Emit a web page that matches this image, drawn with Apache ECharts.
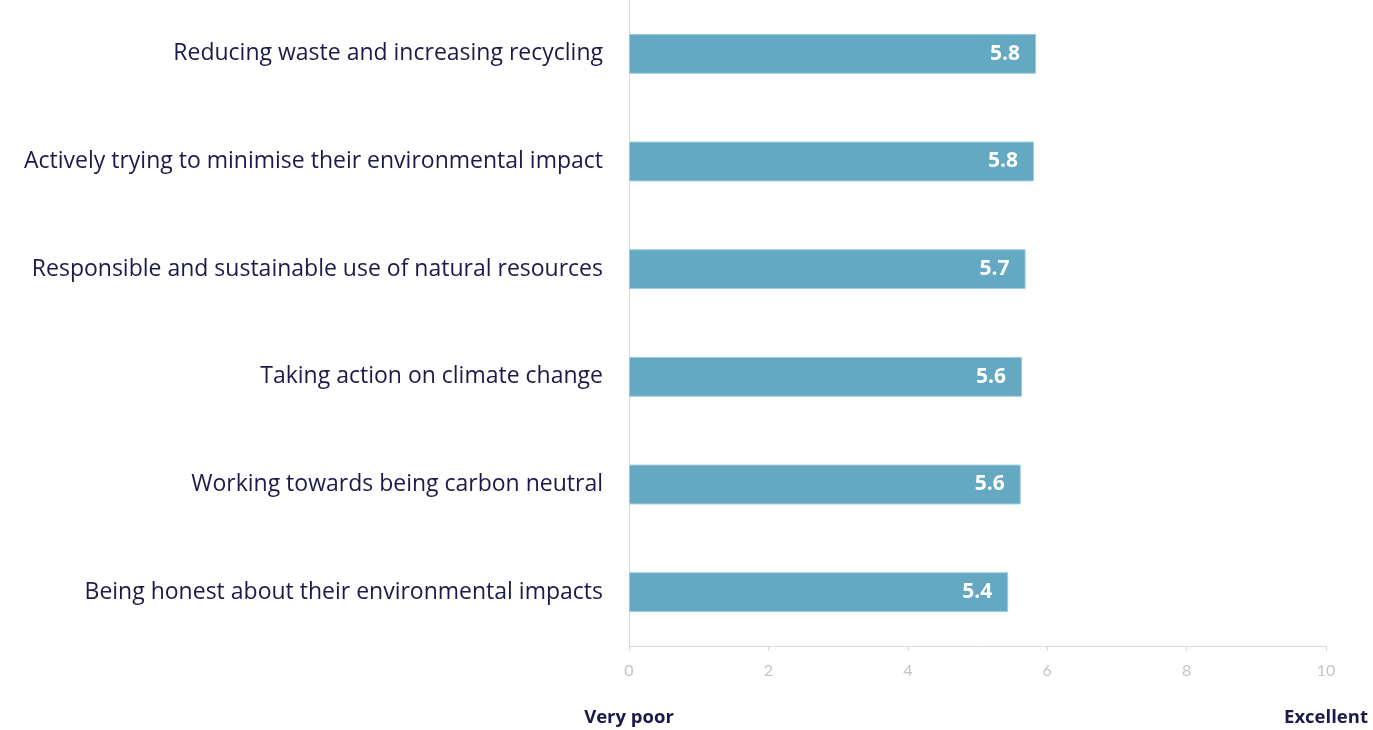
<!DOCTYPE html>
<html>
<head>
<meta charset="utf-8">
<style>
  html, body { margin: 0; padding: 0; background: #ffffff; }
  #chart { width: 1373px; height: 730px; }
</style>
<script src="https://cdn.jsdelivr.net/npm/echarts@6/dist/echarts.min.js"></script>
</head>
<body>
<div id="chart"></div>
<script>
// Ratings on a 0–10 scale, one per statement
const categories = [
  'Reducing waste and increasing recycling',
  'Actively trying to minimise their environmental impact',
  'Responsible and sustainable use of natural resources',
  'Taking action on climate change',
  'Working towards being carbon neutral',
  'Being honest about their environmental impacts'
];
const scores = [5.84, 5.81, 5.69, 5.64, 5.62, 5.44];
const scaleEnds = ['Very poor', 'Excellent'];
const scaleMin = 0;
const scaleMax = 10;

const navy = '#1d1a4a';
const chart = echarts.init(document.getElementById('chart'));

chart.setOption({
  animation: false,
  textStyle: { fontFamily: 'Open Sans' },
  grid: { left: 629, right: 47, top: 0, bottom: 84, containLabel: false },
  xAxis: {
    type: 'value',
    min: scaleMin,
    max: scaleMax,
    interval: 2,
    axisLine: { show: true, lineStyle: { color: '#d9d9d9', width: 1 } },
    axisTick: { show: true, length: 5, lineStyle: { color: '#d9d9d9' } },
    splitLine: { show: false },
    axisLabel: { color: '#c4c4c4', fontSize: 16, margin: 17, fontFamily: 'Lato' }
  },
  yAxis: {
    type: 'category',
    inverse: true,
    data: categories,
    axisLine: { show: true, lineStyle: { color: '#d9d9d9', width: 1 } },
    axisTick: { show: false },
    axisLabel: {
      color: navy, fontSize: 23, margin: 26, fontFamily: 'Open Sans',
      padding: [8, 0, 0, 0]
    }
  },
  series: [{
    type: 'bar',
    data: scores,
    barWidth: '37%',
    itemStyle: { color: '#64a8c2', borderColor: '#9ccbdc', borderWidth: 1 },
    label: {
      show: true,
      position: 'insideRight',
      distance: 16,
      color: '#ffffff',
      fontWeight: 'bold',
      fontSize: 21,
      fontFamily: 'Open Sans',
      formatter: p => p.value.toFixed(1)
    }
  }]
});

// Scale end captions under the axis
const p0 = chart.convertToPixel({ xAxisIndex: 0 }, scaleMin);
const p1 = chart.convertToPixel({ xAxisIndex: 0 }, scaleMax);
chart.setOption({
  graphic: [scaleEnds[0], scaleEnds[1]].map((t, i) => ({
    type: 'text',
    x: i === 0 ? p0 : p1,
    y: 718,
    style: {
      text: t,
      fill: navy,
      font: 'bold 18.5px "Open Sans"',
      align: 'center',
      verticalAlign: 'middle'
    }
  }))
});
</script>
</body>
</html>
